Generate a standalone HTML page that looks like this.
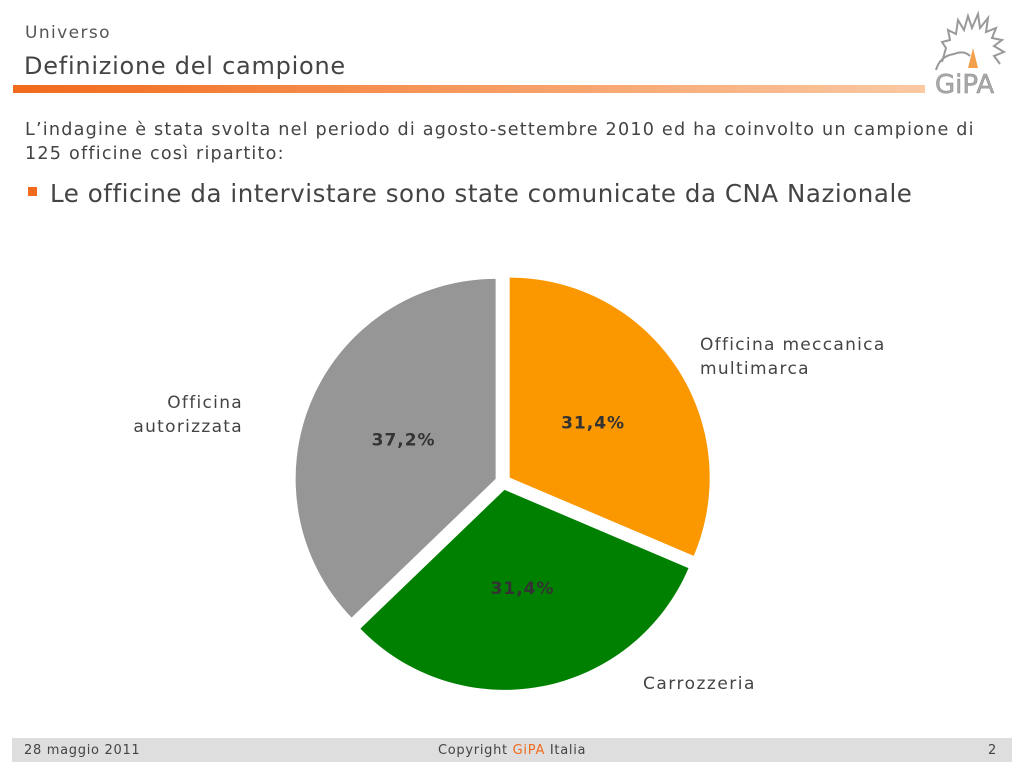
<!DOCTYPE html>
<html><head><meta charset="utf-8"><style>
body{margin:0;width:1024px;height:768px;background:#fff;position:relative;overflow:hidden;font-family:"DejaVu Sans","Liberation Sans",sans-serif;color:#444}
.a{position:absolute;white-space:nowrap}
</style></head><body>
<div class="a" style="left:25px;top:23px;font-size:17px;color:#555;letter-spacing:1.4px">Universo</div>
<div class="a" style="left:24px;top:52px;font-size:24px;color:#444;letter-spacing:0.75px">Definizione del campione</div>
<div class="a" style="left:13px;top:85px;width:912px;height:8px;background:linear-gradient(90deg,#f26a1b,#fbc9a3)"></div>
<svg class="a" style="left:930px;top:10px" width="80" height="86" viewBox="0 0 80 86">
<path d="M12 52 L16 38 L12 32 L20 30 L18 20 L26 24 L28 10 L34 20 L38 6 L42 18 L48 4 L50 18 L58 8 L56 22 L66 18 L62 28 L72 30 L64 36 L74 42 L64 46 L70 54" fill="none" stroke="#999" stroke-width="2"/>
<path d="M6 60 Q10 46 24 44 Q34 40 40 46" fill="none" stroke="#999" stroke-width="2"/>
<path d="M38 58 L43 38 L48 58 Z" fill="#f4a04a"/>
<text x="5" y="83" font-family="DejaVu Sans" font-size="26" fill="#aaa" stroke="#888" stroke-width="0.5">GiPA</text>
</svg>
<div class="a" style="left:25px;top:118px;font-size:17.6px;line-height:24px;color:#444;letter-spacing:1.2px">L’indagine è stata svolta nel periodo di agosto-settembre 2010 ed ha coinvolto un campione di<br>125 officine così ripartito:</div>
<div class="a" style="left:28px;top:187px;width:9px;height:9px;background:#f26a1b"></div>
<div class="a" style="left:50px;top:179px;font-size:24.5px;color:#444;letter-spacing:0.55px">Le officine da intervistare sono state comunicate da CNA Nazionale</div>
<svg id="pie" class="a" style="left:0;top:0" width="1024" height="768"></svg>
<div class="a" style="left:700px;top:333px;font-size:17px;line-height:24px;color:#444;letter-spacing:1.3px">Officina meccanica<br>multimarca</div>
<div class="a" style="left:90px;top:391px;width:153px;text-align:right;font-size:17px;line-height:24px;color:#444;letter-spacing:1.3px">Officina<br>autorizzata</div>
<div class="a" style="left:643px;top:674px;font-size:17px;color:#444;letter-spacing:1.5px">Carrozzeria</div>
<div class="a" style="left:12px;top:738px;width:1000px;height:24px;background:#dedede"></div>
<div class="a" style="left:24px;top:743px;font-size:13px;color:#444;letter-spacing:0.7px">28 maggio 2011</div>
<div class="a" style="left:438px;top:743px;font-size:13px;color:#444;letter-spacing:0.7px">Copyright <span style="color:#f26a1b">GiPA</span> Italia</div>
<div class="a" style="left:988px;top:743px;font-size:13px;color:#444">2</div>
<script>
const categories=["Officina meccanica multimarca","Carrozzeria","Officina autorizzata"];
const values=[31.4,31.4,37.2];
const valueLabels=["31,4%","31,4%","37,2%"];
const colors=["#fb9800","#008000","#969696"];
const svg=document.getElementById('pie');
const NS='http://www.w3.org/2000/svg';
const cx=503,cy=482,r=200,off=8;
const total=values.reduce((a,b)=>a+b,0);
let start=0;
function pt(x,y,a,rad){return [x+rad*Math.sin(a),y-rad*Math.cos(a)];}
values.forEach((v,i)=>{
  const a0=start/total*2*Math.PI,a1=(start+v)/total*2*Math.PI,mid=(a0+a1)/2;
  start+=v;
  const [ox,oy]=pt(cx,cy,mid,off);
  const [x0,y0]=pt(ox,oy,a0,r),[x1,y1]=pt(ox,oy,a1,r);
  const p=document.createElementNS(NS,'path');
  p.setAttribute('d',`M${ox},${oy}L${x0},${y0}A${r},${r} 0 ${a1-a0>Math.PI?1:0} 1 ${x1},${y1}Z`);
  p.setAttribute('fill',colors[i]);
  
  
  svg.appendChild(p);
  const [lx,ly]=pt(ox,oy,mid,r*0.5);
  const t=document.createElementNS(NS,'text');
  t.setAttribute('x',lx);t.setAttribute('y',ly+6);
  t.setAttribute('text-anchor','middle');
  t.setAttribute('font-family','DejaVu Sans, sans-serif');
  t.setAttribute('font-size','17');t.setAttribute('font-weight','bold');t.setAttribute('fill','#333');
  t.setAttribute('letter-spacing','1');
  t.textContent=valueLabels[i];
  
  
  svg.appendChild(t);
});
</script>
</body></html>
